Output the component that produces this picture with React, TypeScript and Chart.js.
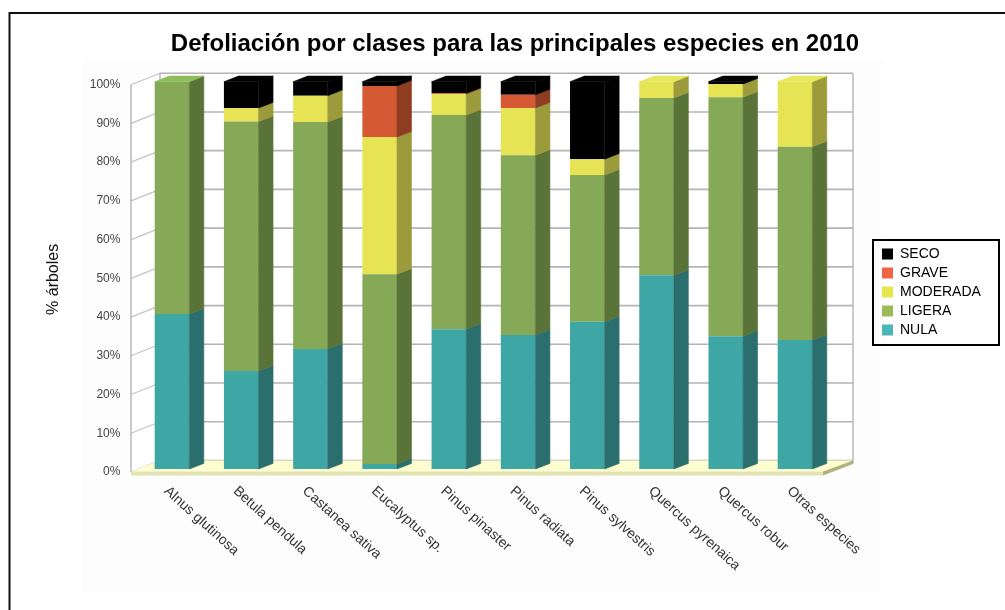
import React, { useEffect, useRef } from "react";
import { Chart, registerables } from "chart.js";

Chart.register(...registerables);

const TITLE = "Defoliación por clases para las principales especies en 2010";
const Y_TITLE = "% árboles";
const categories = ["Alnus glutinosa", "Betula pendula", "Castanea sativa", "Eucalyptus sp.", "Pinus pinaster", "Pinus radiata", "Pinus sylvestris", "Quercus pyrenaica", "Quercus robur", "Otras especies"];
const nula = [40, 25.3, 31, 1.3, 36.1, 34.6, 38, 50, 34.3, 33.3];
const ligera = [60, 64.4, 58.6, 49, 55.3, 46.4, 37.9, 45.8, 61.7, 49.9];
const moderada = [0, 3.5, 6.8, 35.4, 5.4, 12.2, 4.1, 4.2, 3.4, 16.8];
const grave = [0, 0, 0, 13.2, 0.2, 3.4, 0, 0, 0, 0];
const seco = [0, 6.8, 3.6, 1.1, 3, 3.4, 20, 0, 0.6, 0];
const yTicks = [0, 10, 20, 30, 40, 50, 60, 70, 80, 90, 100];

const seriesNames = ["NULA", "LIGERA", "MODERADA", "GRAVE", "SECO"];
const seriesValues = [nula, ligera, moderada, grave, seco];
const frontColors = ["#3fa6a6", "#85a957", "#e6e454", "#d55a33", "#000000"];
const sideColors = ["#2b6e6e", "#5a7338", "#9c9b3c", "#8f3d22", "#000000"];
const topColors = ["#4bb5b8", "#8cbd5a", "#e8e860", "#e0653c", "#000000"];
const legendColors = ["#4bb5b8", "#9bbb59", "#e8e64d", "#f26544", "#000000"];

const poly = (ctx: CanvasRenderingContext2D, pts: number[][], fill: string, seal = false) => {
  ctx.beginPath();
  pts.forEach((p, i) => (i ? ctx.lineTo(p[0], p[1]) : ctx.moveTo(p[0], p[1])));
  ctx.closePath();
  ctx.fillStyle = fill;
  ctx.fill();
  if (seal) {
    ctx.strokeStyle = fill;
    ctx.lineWidth = 0.6;
    ctx.stroke();
  }
};

const stage3d = {
  id: "stage3d",
  afterLayout(chart: any) {
    const t = chart.titleBlock;
    t.left = 25;
    t.right = 1005;
    const y = chart.scales.y;
    y.top += 4;
    y.bottom += 4;
    const l = chart.legend;
    l.left = 877;
    l.right = 999;
    l.top = 242;
    l.bottom = 460;
  },
  beforeDraw(chart: any) {
    const ctx: CanvasRenderingContext2D = chart.ctx;
    ctx.save();
    ctx.fillStyle = "#ffffff";
    ctx.fillRect(0, 0, chart.width, chart.height);
    ctx.fillStyle = "#fdfdfd";
    ctx.fillRect(82, 60, 803, 533);
    ctx.strokeStyle = "#111111";
    ctx.lineWidth = 2;
    ctx.beginPath();
    ctx.moveTo(9.5, 610);
    ctx.lineTo(9.5, 13);
    ctx.lineTo(1005, 13);
    ctx.stroke();
    ctx.restore();
  },
  beforeDatasetsDraw(chart: any) {
    const ctx: CanvasRenderingContext2D = chart.ctx;
    const ys = chart.scales.y;
    const fx = 131, bx = 160, rx = 853, frx = 823;
    const front = (v: number) => ys.getPixelForValue(v) + 3;
    const back = (v: number) => ys.getPixelForValue(v) - 8.5;
    ctx.save();
    poly(ctx, [[fx, front(100)], [bx, back(100)], [rx, back(100)], [rx, back(0)], [bx, back(0)], [fx, front(0)]], "#ffffff");
    ctx.lineCap = "butt";
    yTicks.forEach((v) => {
      ctx.strokeStyle = "#c4c4c4";
      ctx.lineWidth = 1.2;
      ctx.beginPath();
      ctx.moveTo(fx, front(v));
      ctx.lineTo(bx, back(v));
      ctx.stroke();
      ctx.strokeStyle = "#b4b4b4";
      ctx.lineWidth = 1.6;
      ctx.beginPath();
      ctx.moveTo(bx, back(v));
      ctx.lineTo(rx, back(v));
      ctx.stroke();
    });
    ctx.strokeStyle = "#b4b4b4";
    ctx.lineWidth = 1.4;
    [[fx, front(100), fx, front(0)], [bx, back(100), bx, back(0)], [rx, back(100), rx, back(0) + 3]].forEach((s) => {
      ctx.beginPath();
      ctx.moveTo(s[0], s[1]);
      ctx.lineTo(s[2], s[3]);
      ctx.stroke();
    });
    const f0 = front(0) - 0.5;
    poly(ctx, [[fx, f0], [frx, f0], [rx, back(0)], [bx, back(0)]], "#fdfdcf");
    poly(ctx, [[fx, f0], [frx, f0], [frx, f0 + 4], [fx, f0 + 4]], "#e3e3b2");
    poly(ctx, [[frx, f0], [rx, back(0)], [rx, back(0) + 3.5], [frx, f0 + 4]], "#b2b27c");
    ctx.restore();
  },
  afterDatasetsDraw(chart: any) {
    const ctx: CanvasRenderingContext2D = chart.ctx;
    const dx = 14.5, dy = -5.6;
    ctx.save();
    categories.forEach((_, i) => {
      let topInfo: { x0: number; x1: number; y: number; c: string } | null = null;
      chart.data.datasets.forEach((_d: any, s: number) => {
        const el = chart.getDatasetMeta(s).data[i];
        if (!seriesValues[s][i]) return;
        const x1 = el.x + el.width / 2;
        const x0 = el.x - el.width / 2;
        poly(ctx, [[x1, el.base], [x1 + dx, el.base + dy], [x1 + dx, el.y + dy], [x1, el.y]], sideColors[s], true);
        topInfo = { x0, x1, y: el.y, c: topColors[s] };
      });
      if (topInfo) {
        const t: any = topInfo;
        poly(ctx, [[t.x0, t.y], [t.x1, t.y], [t.x1 + dx, t.y + dy], [t.x0 + dx, t.y + dy]], t.c, true);
      }
    });
    ctx.restore();
  },
  afterDraw(chart: any) {
    const ctx: CanvasRenderingContext2D = chart.ctx;
    ctx.save();
    ctx.strokeStyle = "#000000";
    ctx.lineWidth = 2;
    ctx.strokeRect(873, 240, 126, 105);
    ctx.restore();
  },
};

export default function App() {
  const ref = useRef<HTMLCanvasElement>(null);
  useEffect(() => {
    const chart = new Chart(ref.current as HTMLCanvasElement, {
      type: "bar",
      data: {
        labels: categories,
        datasets: seriesNames.map((name, i) => ({
          label: name,
          data: seriesValues[i],
          backgroundColor: frontColors[i],
          borderWidth: 0,
          barPercentage: 0.5,
          categoryPercentage: 1,
          clip: false,
        })),
      },
      options: {
        responsive: false,
        animation: false,
        events: [],
        layout: { padding: { left: 0, right: 175.4, top: 0, bottom: 0 } },
        scales: {
          x: {
            stacked: true,
            grid: { display: false },
            border: { display: false },
            ticks: {
              autoSkip: false,
              minRotation: -42,
              maxRotation: -42,
              padding: 6,
              labelOffset: -6,
              color: "#333333",
              font: { family: "Liberation Sans", size: 14 },
            },
            afterFit(scale: any) {
              scale.height = 141;
            },
            afterUpdate(scale: any) {
              scale._getXAxisLabelAlignment = () => "left";
            },
          },
          y: {
            stacked: true,
            min: 0,
            max: 100,
            grid: { display: false },
            border: { display: false },
            ticks: {
              stepSize: 10,
              padding: 9,
              labelOffset: 3,
              color: "#444444",
              font: { family: "Liberation Sans", size: 12 },
              callback: (v: any) => `${v}%`,
            },
            title: {
              display: true,
              text: Y_TITLE,
              color: "#111111",
              padding: { top: 44, bottom: 0 },
              font: { family: "Liberation Sans", size: 16 },
            },
            afterFit(scale: any) {
              scale.width = 137.4;
            },
          },
        },
        plugins: {
          title: {
            display: true,
            text: TITLE,
            color: "#000000",
            padding: { top: 30, bottom: 22.9 },
            font: { family: "Liberation Sans", size: 24, weight: "bold" },
          },
          legend: {
            position: "chartArea",
            align: "start",
            reverse: true,
            labels: {
              color: "#111111",
              boxWidth: 11,
              boxHeight: 11,
              padding: 5,
              font: { family: "Liberation Sans", size: 14 },
              generateLabels: () =>
                seriesNames.map((name, i) => ({
                  text: name,
                  fillStyle: legendColors[i],
                  strokeStyle: legendColors[i],
                  lineWidth: 0,
                  datasetIndex: i,
                  hidden: false,
                })),
            },
          },
          tooltip: { enabled: false },
        },
      },
      plugins: [stage3d],
    } as any);
    return () => chart.destroy();
  }, []);
  return (
    <div style={{ position: "absolute", left: 0, top: 0, width: 1005, height: 610 }}>
      <canvas ref={ref} width={1005} height={610} style={{ display: "block" }} />
    </div>
  );
}
